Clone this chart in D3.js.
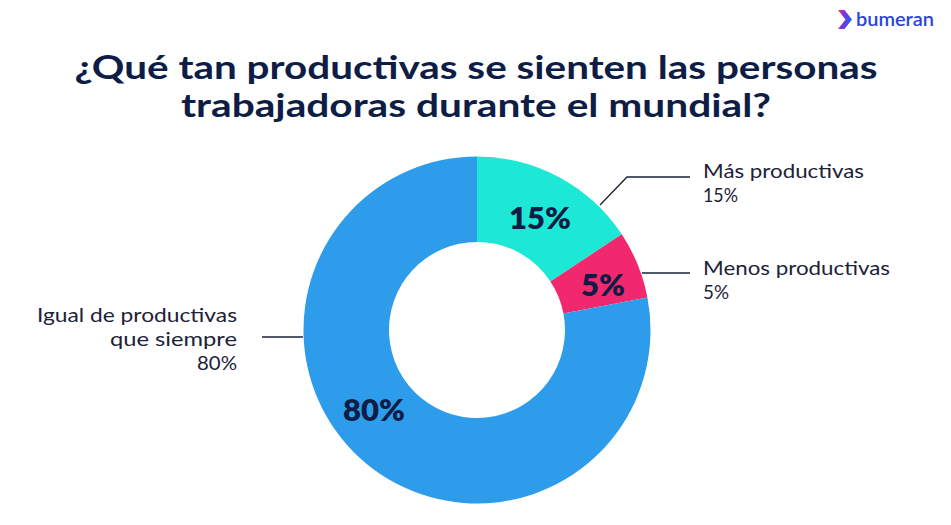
<!DOCTYPE html>
<html>
<head>
<meta charset="utf-8">
<script src="https://cdn.jsdelivr.net/npm/d3@7"></script>
<style>
  body { margin: 0; background: #fff; }
  svg { display: block; font-family: Lato, "Open Sans", sans-serif; }
</style>
</head>
<body>
<svg id="chart"></svg>
<script>
const titleLines = ["¿Qué tan productivas se sienten las personas", "trabajadoras durante el mundial?"];
const categories = ["Más productivas", "Menos productivas", "Igual de productivas que siempre"];
const values = [15, 5, 80];
// shares of the ring as drawn in the picture (slightly different from the printed values)
const ringShares = [15.7, 6.3, 78];
const colors = ["#1de8d6", "#f2286f", "#2c9ceb"];

const width = 951, height = 525;
const navy = "#0e1d45";

const svg = d3.select("#chart").attr("width", width).attr("height", height);

// logo
const logo = svg.append("g").attr("transform", "translate(838,10)");
const grad = svg.append("defs").append("linearGradient").attr("id", "lg")
  .attr("x1", 0).attr("y1", 0).attr("x2", 1).attr("y2", 0.3);
grad.append("stop").attr("offset", 0).attr("stop-color", "#f0287a");
grad.append("stop").attr("offset", 0.5).attr("stop-color", "#7a35e0");
grad.append("stop").attr("offset", 1).attr("stop-color", "#1f5cf0");
logo.append("path").attr("d", "M0,0 L6.5,0 L14,9.5 L6.5,19 L0,19 L7.5,9.5 Z").attr("fill", "url(#lg)");
logo.append("text").attr("x", 18).attr("y", 16)
  .attr("font-size", 19).attr("font-weight", 600).attr("fill", "#2a43e0")
  .attr("textLength", 78).attr("lengthAdjust", "spacingAndGlyphs").text("bumeran");

// title
svg.append("g").selectAll("text").data(titleLines).join("text")
  .attr("x", 476).attr("y", (d, i) => 79 + i * 38)
  .attr("text-anchor", "middle").attr("font-weight", 700).attr("font-size", 33)
  .attr("fill", navy)
  .attr("textLength", (d, i) => [803, 590][i]).attr("lengthAdjust", "spacingAndGlyphs")
  .text(d => d);

// donut
const cx = 477, cy = 330, rOuter = 173.5, rInner = 88;
const pie = d3.pie().sort(null).value(d => d.share);
const data = categories.map((c, i) => ({ cat: c, value: values[i], share: ringShares[i], color: colors[i] }));
const arcs = pie(data);
const arc = d3.arc().innerRadius(rInner).outerRadius(rOuter);

const g = svg.append("g").attr("transform", `translate(${cx},${cy})`);
g.selectAll("path").data(arcs).join("path")
  .attr("d", arc).attr("fill", d => d.data.color);

// in-ring percentages
const labelPos = [[63, -101], [126, -34], [-103, 91]];
g.selectAll("text.pct").data(arcs).join("text")
  .attr("class", "pct")
  .attr("x", (d, i) => labelPos[i][0]).attr("y", (d, i) => labelPos[i][1])
  .attr("text-anchor", "middle").attr("font-weight", 800).attr("font-size", 31)
  .attr("fill", navy).text(d => d.data.value + "%");

// leader lines
const leaders = [
  [[600, 205], [627, 177], [690, 177]],
  [[642, 273], [690, 273]],
  [[303, 337], [262, 337]]
];
svg.append("g").selectAll("path").data(leaders).join("path")
  .attr("d", d3.line()).attr("fill", "none").attr("stroke", "#1b2238").attr("stroke-width", 1.3);

// outside labels
const outLabels = [
  { x: 703, y: 178, anchor: "start", lines: ["Más productivas", values[0] + "%"], widths: [161, 35] },
  { x: 703, y: 275, anchor: "start", lines: ["Menos productivas", values[1] + "%"], widths: [187, 26] },
  { x: 237, y: 322, anchor: "end", lines: ["Igual de productivas", "que siempre", values[2] + "%"], widths: [200, 127, 40] }
];
outLabels.forEach(l => {
  svg.append("g").selectAll("text").data(l.lines).join("text")
    .attr("x", l.x).attr("y", (d, i) => l.y + i * 24).attr("text-anchor", l.anchor)
    .attr("font-size", 20).attr("fill", "#1c2238")
    .attr("textLength", (d, i) => l.widths[i]).attr("lengthAdjust", "spacingAndGlyphs")
    .text(d => d);
});
</script>
</body>
</html>
